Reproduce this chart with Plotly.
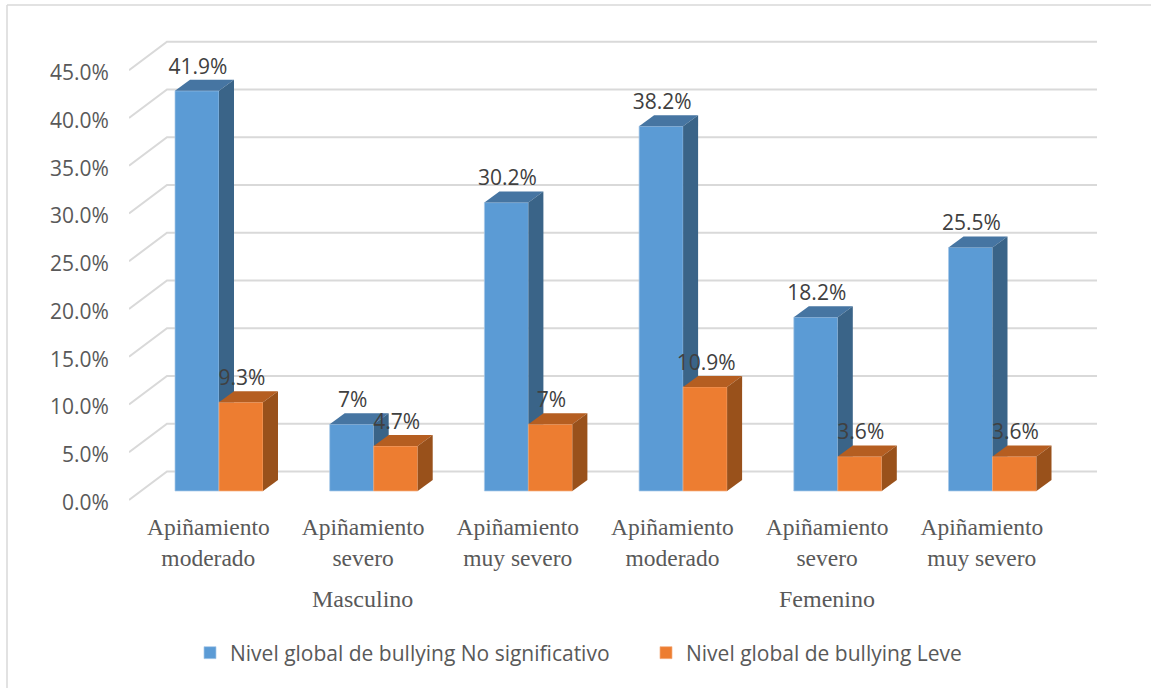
import plotly.graph_objects as go

categories = ["Apiñamiento<br>moderado", "Apiñamiento<br>severo", "Apiñamiento<br>muy severo",
              "Apiñamiento<br>moderado", "Apiñamiento<br>severo", "Apiñamiento<br>muy severo"]
groups = ["Masculino", "Femenino"]
no_significativo = [41.9, 7.0, 30.2, 38.2, 18.2, 25.5]
leve = [9.3, 4.7, 7.0, 10.9, 3.6, 3.6]
labels_a = ["41.9%", "7%", "30.2%", "38.2%", "18.2%", "25.5%"]
labels_b = ["9.3%", "4.7%", "7%", "10.9%", "3.6%", "3.6%"]
y_ticks = [0, 5, 10, 15, 20, 25, 30, 35, 40, 45]

BLUE, BLUE_TOP, BLUE_SIDE = "#5B9BD5", "#4675A2", "#3A6488"
ORANGE, ORANGE_TOP, ORANGE_SIDE = "#ED7D31", "#B55E21", "#99511B"
GRID = "#D9D9D9"
W, H = 1151, 689
L, R, T, B = 129, 1097, 35, 503
ZERO = 500
XS = 154.7
YS = 9.55
X0 = -0.5
XR = [X0, X0 + (R - L) / XS]
YR = [(ZERO - B) / YS, (ZERO - T) / YS]

wall_dx, wall_dy = 38 / XS, 28.5 / YS
floor = 9 / YS
bar_w = 44 / XS
shift = 12.65 / XS
depth_x, depth_y = 15 / XS, 11 / YS
label_up = 22.5 / YS
label_right = 1 / XS
tick_right = 2 / XS
tick_down = 2.5 / YS

fig = go.Figure()

# Gridlines: side wall + back wall
for v in y_ticks:
    fig.add_trace(go.Scatter(
        x=[XR[0], XR[0] + wall_dx, XR[1]],
        y=[v, v + wall_dy, v + wall_dy],
        mode="lines", line=dict(color=GRID, width=2), hoverinfo="skip",
        showlegend=False, xaxis="x", yaxis="y"))


def add_series(name, vals, left_off, front, top, side, xa, ya):
    xs = [i + shift + left_off + bar_w / 2 for i in range(len(vals))]
    fig.add_trace(go.Bar(
        x=xs, y=vals, base=[floor] * len(vals), width=bar_w, name=name,
        marker=dict(color=front, line=dict(color="#A9C9E8" if front == BLUE else "#F5B083", width=0.7)),
        xaxis=xa, yaxis=ya))
    for cx, v in zip(xs, vals):
        x0, x1 = cx - bar_w / 2, cx + bar_w / 2
        t = v + floor
        fig.add_trace(go.Scatter(
            x=[x0, x0 + depth_x, x1 + depth_x, x1, x0],
            y=[t, t + depth_y, t + depth_y, t, t],
            mode="lines", fill="toself", fillcolor=top, line=dict(width=0),
            hoverinfo="skip", showlegend=False, xaxis=xa, yaxis=ya))
        fig.add_trace(go.Scatter(
            x=[x1, x1 + depth_x, x1 + depth_x, x1, x1],
            y=[t, t + depth_y, floor + depth_y, floor, t],
            mode="lines", fill="toself", fillcolor=side, line=dict(width=0),
            hoverinfo="skip", showlegend=False, xaxis=xa, yaxis=ya))
    return xs


xs_a = add_series("Nivel global de bullying No significativo", no_significativo, -bar_w,
                  BLUE, BLUE_TOP, BLUE_SIDE, "x2", "y2")
xs_b = add_series("Nivel global de bullying Leve", leve, 0,
                  ORANGE, ORANGE_TOP, ORANGE_SIDE, "x3", "y3")

for xs, vals, txt in ((xs_a, no_significativo, labels_a), (xs_b, leve, labels_b)):
    fig.add_trace(go.Scatter(
        x=[c + label_right for c in xs], y=[v + floor + label_up for v in vals], text=txt,
        mode="text", textposition="middle center",
        textfont=dict(family="Open Sans", size=21, color="#404040"),
        hoverinfo="skip", showlegend=False, xaxis="x3", yaxis="y3"))

hidden = dict(visible=False, fixedrange=True)
px = lambda p: (p - L) / (R - L)
py = lambda p: (B - p) / (B - T)
fig.update_layout(
    width=W, height=H, autosize=False,
    paper_bgcolor="white", plot_bgcolor="rgba(0,0,0,0)",
    margin=dict(l=L, r=W - R, t=T, b=H - B, pad=0),
    barmode="overlay",
    showlegend=True,
    legend=dict(orientation="h", x=px(190), xanchor="left", xref="paper", y=py(653), yanchor="middle",
                entrywidth=411, entrywidthmode="pixels",
                font=dict(family="Open Sans", size=21, color="#595959"), traceorder="normal",
                bgcolor="rgba(0,0,0,0)"),
    xaxis=dict(range=XR, showgrid=False, zeroline=False, showline=False,
               tickmode="array", tickvals=[i + tick_right for i in range(len(categories))], ticktext=categories,
               tickfont=dict(family="Liberation Serif", size=23.5, color="#595959"),
               ticks="outside", ticklen=3, tickcolor="rgba(0,0,0,0)", tickangle=0, automargin=False),
    yaxis=dict(range=YR, showgrid=False, zeroline=False, showline=False,
               tickmode="array", tickvals=[v - tick_down for v in y_ticks], ticktext=[f"{v:.1f}%" for v in y_ticks],
               tickfont=dict(family="Open Sans", size=21, color="#595959"),
               ticks="outside", ticklen=15, tickcolor="rgba(0,0,0,0)", automargin=False),
    xaxis2=dict(range=XR, overlaying="x", **hidden),
    yaxis2=dict(range=YR, overlaying="y", **hidden),
    xaxis3=dict(range=XR, overlaying="x", **hidden),
    yaxis3=dict(range=YR, overlaying="y", **hidden),
    shapes=[
        dict(type="line", xref="paper", yref="paper", layer="below",
             x0=px(7), x1=px(1151), y0=py(5), y1=py(5),
             line=dict(color="#D9D9D9", width=1.5)),
        dict(type="line", xref="paper", yref="paper", layer="below",
             x0=px(7), x1=px(7), y0=py(5), y1=py(688),
             line=dict(color="#D9D9D9", width=1.5)),
    ],
    annotations=[
        dict(text=groups[0], xref="paper", yref="paper", x=px(362.5), y=py(599), showarrow=False,
             xanchor="center", yanchor="middle",
             font=dict(family="Liberation Serif", size=24, color="#595959")),
        dict(text=groups[1], xref="paper", yref="paper", x=px(827), y=py(599), showarrow=False,
             xanchor="center", yanchor="middle",
             font=dict(family="Liberation Serif", size=24, color="#595959")),
    ],
)

fig.write_html("out.html", config={"displayModeBar": False},
               post_script="document.body.style.margin='0';document.body.style.overflow='hidden';")
